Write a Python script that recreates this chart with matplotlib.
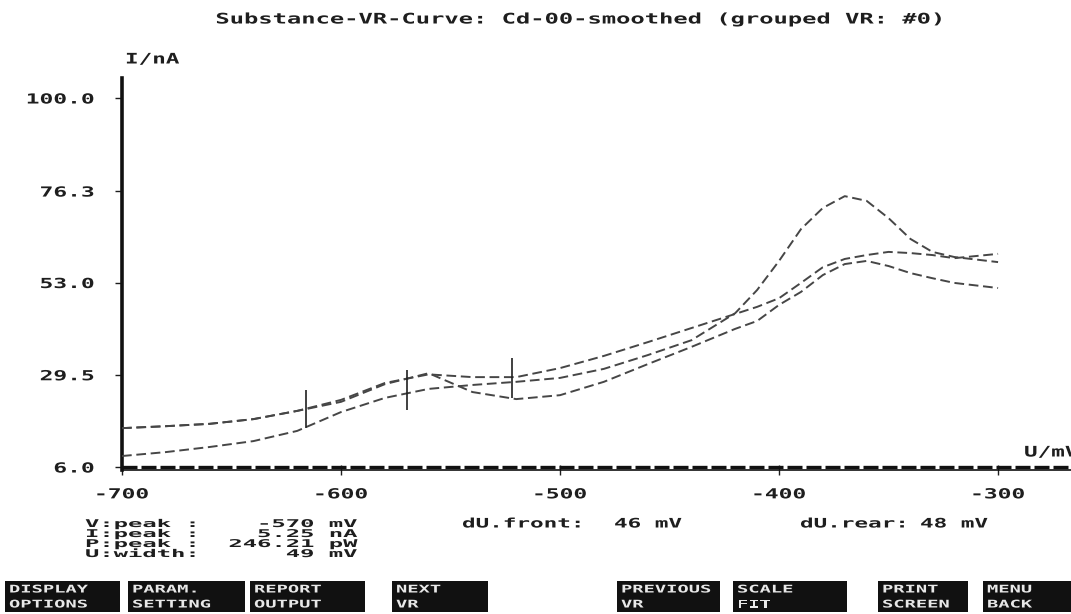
import matplotlib
matplotlib.use("Agg")
import matplotlib.pyplot as plt
from matplotlib.patheffects import AbstractPathEffect
from matplotlib.transforms import Affine2D
from matplotlib.patches import Rectangle

# ---------------- data ----------------
volt = [-700, -680, -660, -640, -620, -600, -580, -560, -540, -520, -500, -480, -460,
        -440, -420, -410, -400, -390, -380, -370, -360, -350, -340, -330, -320, -300]
curve_a = [15.9, 16.4, 17.0, 18.2, 20.3, 22.6, 27.1, 29.9, 25.1, 23.3, 24.3, 27.7, 32.2,
           36.6, 41.2, 43.2, 47.3, 50.6, 54.9, 57.7, 58.5, 57.2, 55.4, 54.1, 52.9, 51.6]
curve_b = [15.9, 16.4, 17.0, 18.2, 20.3, 23.1, 27.4, 29.6, 28.9, 28.9, 31.2, 34.3, 37.8,
           41.4, 45.0, 46.8, 49.0, 52.9, 56.9, 59.0, 60.0, 60.8, 60.5, 60.0, 59.2, 60.3]
curve_c = [8.8, 9.8, 11.1, 12.6, 15.2, 20.0, 23.6, 25.9, 26.9, 27.7, 28.7, 31.0, 34.5,
           38.3, 45.2, 51.1, 58.5, 66.6, 72.0, 75.0, 73.8, 69.4, 64.1, 60.8, 59.5, 58.2]
baseline_value = 6.0

marker_v = [-616, -570, -522]
marker_lo = [15.9, 20.5, 23.6]
marker_hi = [25.6, 30.7, 33.8]

x_ticks = [-700, -600, -500, -400, -300]
x_tick_labels = ["-700", "-600", "-500", "-400", "-300"]
y_ticks = [6.0, 29.5, 53.0, 76.3, 100.0]
y_tick_labels = ["6.0", "29.5", "53.0", "76.3", "100.0"]

title_text = "Substance-VR-Curve: Cd-00-smoothed (grouped VR: #0)"
info_lines = ["V:peak :    -570 mV",
              "I:peak :    5.25 nA",
              "P:peak :  246.21 pW",
              "U:width:      49 mV"]
front_label, front_value = "dU.front:", "46 mV"
rear_label, rear_value = "dU.rear:", "48 mV"
buttons = [("DISPLAY", "OPTIONS"), ("PARAM.", "SETTING"), ("REPORT", "OUTPUT"), ("NEXT", "VR"),
           ("PREVIOUS", "VR"), ("SCALE", "FIT"), ("PRINT", "SCREEN"), ("MENU", "BACK")]
button_x = [5, 128, 250, 392, 617, 733, 878, 983]
button_w = [115, 117, 115, 96, 103, 114, 90, 88]


# ------------- wide DOS-like text effect -------------
class Stretch(AbstractPathEffect):
    def __init__(self, sx=1.6, sy=1.0, anchor="left"):
        super().__init__()
        self.sx, self.sy, self.anchor = sx, sy, anchor

    def draw_path(self, renderer, gc, tpath, affine, rgbFace=None):
        ext = tpath.get_extents()
        if self.anchor == "center":
            cx = (ext.x0 + ext.x1) / 2
        elif self.anchor == "right":
            cx = ext.x1
        else:
            cx = 0.0
        t = Affine2D().translate(-cx, 0).scale(self.sx, self.sy).translate(cx, 0)
        renderer.draw_path(gc, tpath, t + affine, rgbFace)


W, H = 1071, 614
FONT = "DejaVu Sans Mono"
TXT = "#1e1e1e"

fig = plt.figure(figsize=(W / 100, H / 100), dpi=100)
fig.patch.set_facecolor("white")


def fx(px):
    return px / W


def fy(py):
    return 1 - py / H


ax = fig.add_axes([fx(122), fy(470), fx(W - 122), (470 - 78) / H])
ax.set_xlim(-700, -266.7)
ax.set_ylim(5.24, 105.1)
for s in ("top", "right"):
    ax.spines[s].set_visible(False)
ax.spines["left"].set_linewidth(2.6)
ax.spines["bottom"].set_linewidth(1.2)
ax.spines["left"].set_color("#111111")
ax.spines["bottom"].set_color("#111111")

curve_style = dict(color="#464646", lw=1.4, dashes=(5, 2.4), zorder=3)
ax.plot(volt, curve_a, **curve_style)
ax.plot(volt, curve_b, **curve_style)
ax.plot(volt, curve_c, **curve_style)
ax.axhline(baseline_value, color="#111111", lw=2.4, dashes=(4.5, 1.2), zorder=4, clip_on=False)
ax.vlines(marker_v, marker_lo, marker_hi, color="#202020", lw=1.2, zorder=5)

ax.set_xticks(x_ticks)
ax.set_xticklabels(x_tick_labels)
ax.set_yticks(y_ticks)
ax.set_yticklabels(y_tick_labels)
ax.tick_params(axis="x", direction="inout", length=7, width=1.0, pad=9, colors=TXT)
ax.tick_params(axis="y", direction="out", length=5, width=1.0, pad=15, colors=TXT)
for lbl in ax.get_xticklabels():
    lbl.set_fontfamily(FONT)
    lbl.set_fontweight("bold")
    lbl.set_fontsize(10)
    lbl.set_path_effects([Stretch(1.65, 1.0, "center")])
for lbl in ax.get_yticklabels():
    lbl.set_fontfamily(FONT)
    lbl.set_fontweight("bold")
    lbl.set_fontsize(10)
    lbl.set_path_effects([Stretch(1.65, 1.0, "right")])


def wtext(px, py, s, sx=1.63, sy=1.0, size=10.5, ha="left", va="center", color=TXT, **kw):
    return fig.text(fx(px), fy(py), s, fontfamily=FONT, fontweight="bold", fontsize=size,
                    ha=ha, va=va, color=color, path_effects=[Stretch(sx, sy, ha)], **kw)


# title and axis units
wtext(579, 19, title_text, ha="center")
wtext(125, 59, "I/nA", sx=1.55)
wtext(1024, 452, "U/mV", sx=1.55)

# info block (tightly stacked lines as in the original screen)
for i, line in enumerate(info_lines):
    wtext(85, 524 + i * 10, line, sx=2.45, sy=1.1, size=7)
wtext(462, 523, front_label, sx=1.55, sy=0.9)
wtext(614, 523, front_value, sx=1.55, sy=0.9)
wtext(800, 523, rear_label, sx=1.55, sy=0.9)
wtext(920, 523, rear_value, sx=1.55, sy=0.9)

# function-key bar
for (l1, l2), bx, bw in zip(buttons, button_x, button_w):
    fig.patches.append(Rectangle((fx(bx), fy(612)), fx(bw), (612 - 581) / H,
                                 transform=fig.transFigure, facecolor="#111111",
                                 edgecolor="none", zorder=1))
    wtext(bx + 4, 589, l1, sx=1.5, sy=0.85, size=9, color="#e8e8e8", zorder=2)
    wtext(bx + 4, 604, l2, sx=1.5, sy=0.85, size=9, color="#e8e8e8", zorder=2)

fig.savefig("out.png", dpi=100, facecolor="white")
